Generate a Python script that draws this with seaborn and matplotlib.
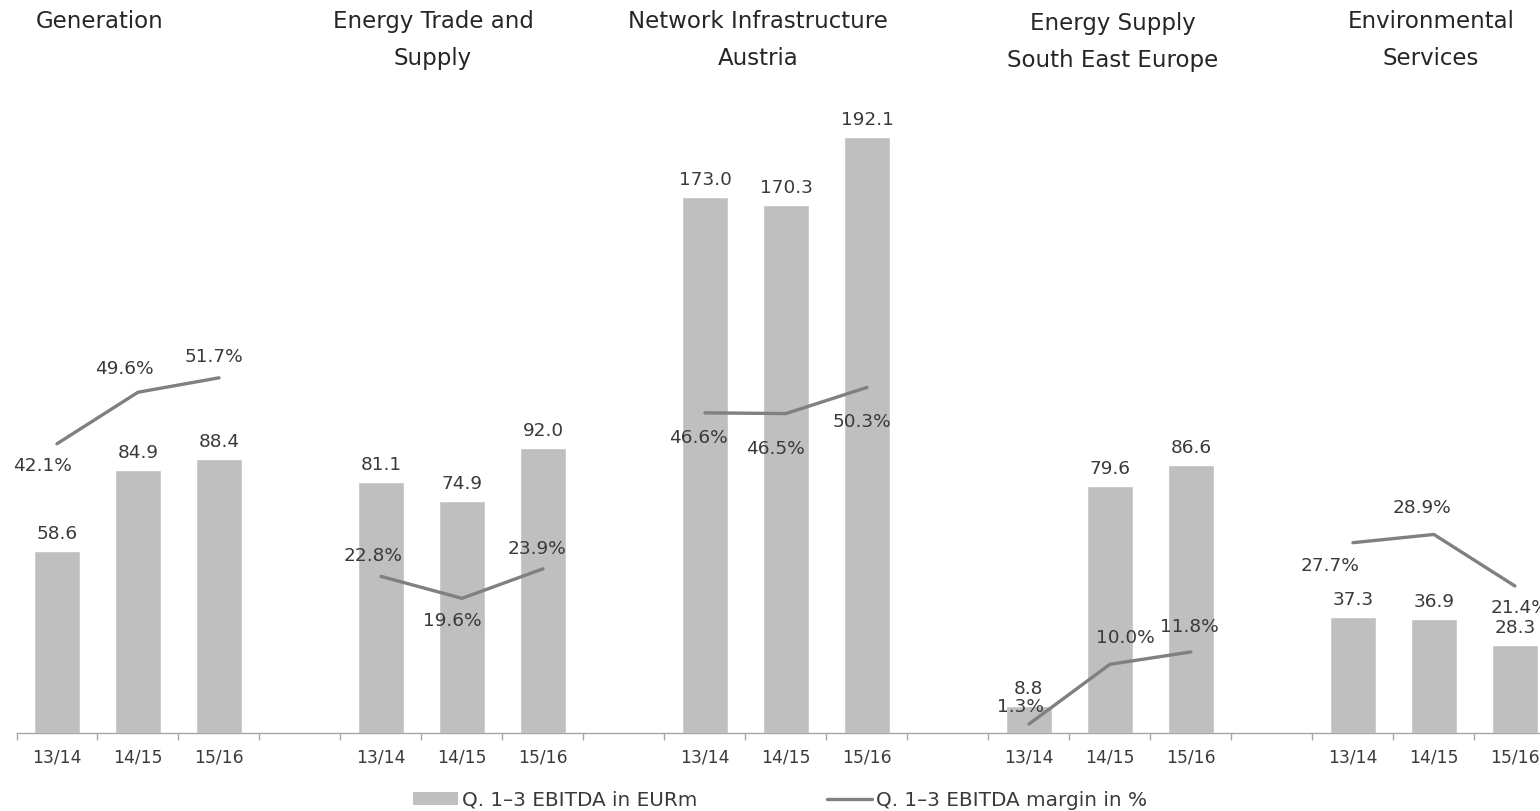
import numpy as np
import pandas as pd
import matplotlib.pyplot as plt
from matplotlib.patches import Patch
from matplotlib.lines import Line2D
import seaborn as sns

# values
segments = ["Generation", "Energy Trade and\nSupply", "Network Infrastructure\nAustria",
            "Energy Supply\nSouth East Europe", "Environmental\nServices"]
periods = ["13/14", "14/15", "15/16"]
ebitda = [58.6, 84.9, 88.4,
          81.1, 74.9, 92.0,
          173.0, 170.3, 192.1,
          8.8, 79.6, 86.6,
          37.3, 36.9, 28.3]
margin = [42.1, 49.6, 51.7,
          22.8, 19.6, 23.9,
          46.6, 46.5, 50.3,
          1.3, 10.0, 11.8,
          27.7, 28.9, 21.4]

# each segment takes 3 slots + 1 empty slot
rows = []
for g, seg in enumerate(segments):
    for p, per in enumerate(periods):
        i = g * 3 + p
        rows.append({"segment": seg, "period": per, "x": g * 4 + p,
                     "ebitda": ebitda[i], "margin": margin[i]})
df = pd.DataFrame(rows)

# label offsets for the margin texts (pixels)
pct_offsets = [(-14, -22), (-14, 23), (-5, 21),
               (-8, 20), (-10, -23), (-6, 20),
               (-7, -25), (-11, -35), (-5, -35),
               (-8, 17), (15, 26), (-2, 25),
               (-23, -23), (-12, 26), (5, -22)]

sns.set_style("white")
plt.rcParams["font.family"] = ["DejaVu Sans"]
txt = "#3a3a3a"
bar_col = "#bfbfbf"
line_col = "#808080"

W, H = 1540, 811
fig = plt.figure(figsize=(W / 100, H / 100), dpi=100)
left_px, base_px = 16.5, 733
ax = fig.add_axes([left_px / W, (H - base_px) / H, 1 - left_px / W, base_px / H])

sns.barplot(data=df, x="x", y="ebitda", native_scale=True, width=0.57,
            color=bar_col, saturation=1, ax=ax)
ax.set_ylim(0, base_px / 3.1)

for x, v in zip(df["x"], df["ebitda"]):
    ax.annotate(f"{v:.1f}", (x, v), xytext=(0, 17), textcoords="offset pixels",
                ha="center", va="center", fontsize=13.3, color=txt)

ax2 = ax.twinx()
sns.lineplot(data=df, x="x", y="margin", units="segment", estimator=None,
             color=line_col, linewidth=2.4, ax=ax2, legend=False)
ax2.set_ylim(0, base_px / 6.87)
# set x range after both plots, twinx shares it
ax.set_xlim(-0.5, 18.31)
for (x, v), off in zip(zip(df["x"], df["margin"]), pct_offsets):
    ax2.annotate(f"{v:.1f}%", (x, v), xytext=off, textcoords="offset pixels",
                 ha="center", va="center", fontsize=13.3, color=txt)

# axes styling
for a in (ax, ax2):
    for s in ["top", "right", "left"]:
        a.spines[s].set_visible(False)
    a.set_yticks([])
    a.set_ylabel("")
    a.set_xlabel("")
ax2.spines["bottom"].set_visible(False)
ax.spines["bottom"].set_color("#a6a6a6")
ax.spines["bottom"].set_linewidth(1)

ax.set_xticks(df["x"])
ax.set_xticklabels(periods * len(segments), fontsize=12.3, color=txt)
ax.tick_params(axis="x", which="major", bottom=True, length=0, pad=11)
ax.set_xticks(np.arange(-0.5, 19, 1), minor=True)
ax.tick_params(axis="x", which="minor", bottom=True, length=5, width=1,
               color="#a6a6a6", direction="out")
ax.set_xlim(-0.5, 18.31)

# segment titles
title_pos = [(100, 22), (433, 40), (758, 40), (1113, 42), (1431, 40)]
for seg, (tx, ty) in zip(segments, title_pos):
    fig.text(tx / W, 1 - ty / H, seg, ha="center", va="center", fontsize=16.5,
             color="#262626", linespacing=1.75)

handles = [Patch(facecolor=bar_col, edgecolor="none"),
           Line2D([0], [0], color=line_col, linewidth=2.4)]
fig.legend(handles, ["Q. 1\u20133 EBITDA in EURm", "Q. 1\u20133 EBITDA margin in %"],
           loc="center", bbox_to_anchor=(0.5065, 1 - 800 / H), ncol=2, frameon=False,
           fontsize=14.4, handlelength=2.25, handleheight=0.6, handletextpad=0.2,
           columnspacing=6.5, labelcolor=txt)

fig.savefig("out.png", dpi=100)
